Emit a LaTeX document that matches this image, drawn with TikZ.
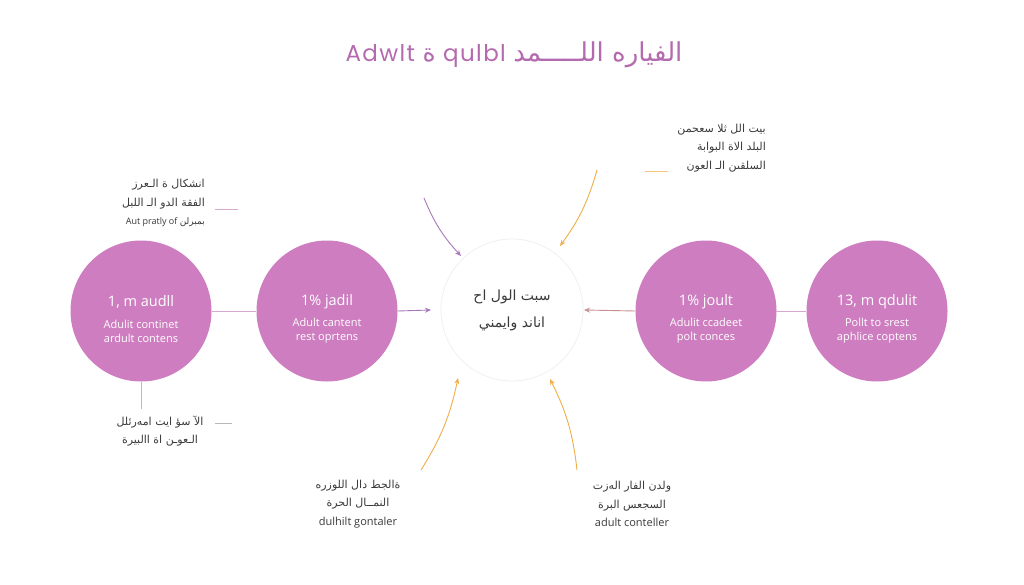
\documentclass[tikz,border=0pt]{standalone}
\usepackage{fontspec}
\setmainfont{Open Sans}
\newfontfamily\arabicfont[Script=Arabic]{DejaVu Sans}
\newfontfamily\titlefont[LetterSpace=6]{Poppins}
\TeXXeTstate=1
\usetikzlibrary{arrows.meta}
\definecolor{bubblec}{HTML}{CE7EC0}
\definecolor{titlec}{HTML}{B46AAE}
\definecolor{textc}{HTML}{3A3A3A}
\definecolor{linkc}{HTML}{D8A8D0}
\definecolor{hubc}{HTML}{EFEFEF}
\definecolor{purplec}{HTML}{A878B8}
\definecolor{brownc}{HTML}{C89090}
\definecolor{orangec}{HTML}{EFAE4A}
\definecolor{grayc}{HTML}{B8B8B8}
\newcommand{\arab}[1]{{\arabicfont\beginR #1\endR}}
\newcommand{\headsz}{\fontsize{14.5}{16}\selectfont}
\newcommand{\subsz}{\fontsize{11}{14}\selectfont}
\begin{document}
\begin{tikzpicture}[x=1pt,y=-1pt,
  bubble/.style={circle, fill=bubblec, minimum size=141pt, inner sep=0pt, text=white, align=center},
  hub/.style={circle, draw=hubc, line width=0.7pt, minimum size=142pt, inner sep=0pt, align=center, text=textc,
    font=\fontsize{14}{27}\selectfont},
  link/.style={draw=linkc, line width=0.9pt},
  arr/.style={-{Stealth[length=6pt,width=5pt]}, line width=0.9pt},
  note/.style={text=textc, font=\fontsize{11}{18.5}\selectfont, inner sep=0pt},
  tick/.style={line width=0.8pt},
  btext/.style={text=white, align=center, inner sep=0pt}
]
\useasboundingbox (0,0) rectangle (1024,585);
\fill[white] (0,0) rectangle (1024,585);

% title
\node[text=titlec, font=\titlefont\fontsize{23}{26}\selectfont] (title) at (514,55)
  {Adwlt \arab{\fontsize{25}{26}\selectfont ة} qulbl \arab{\fontsize{26}{26}\selectfont الفياره اللـــــمد}};

% bubbles
\node[bubble] (c1) at (141,311) {};
\node[bubble] (c2) at (327,311) {};
\node[bubble] (c3) at (706,311) {};
\node[bubble] (c4) at (877,311) {};
\node[btext, font=\headsz] (h1) at (141,302) {1, m audll};
\node[btext, font=\subsz] (s1) at (141,331) {Adulit continet\\ ardult contens};
\node[btext, font=\headsz] (h2) at (327,302) {1\% jadil};
\node[btext, font=\subsz] (s2) at (327,331) {Adult cantent\\ rest oprtens};
\node[btext, font=\headsz] (h3) at (706,302) {1\% joult};
\node[btext, font=\subsz] (s3) at (706,331) {Adulit ccadeet\\ polt conces};
\node[btext, font=\headsz] (h4) at (877,302) {13, m qdulit};
\node[btext, font=\subsz] (s4) at (877,331) {Pollt to srest\\ aphlice coptens};

% hub
\node[hub] (hub) at (512,310) {\arab{سبت الول اح}\\ \arab{اناند وايمني}};

% links between bubbles
\draw[link] (c1.east) -- (c2.west);
\draw[link] (c3.east) -- (c4.west);
\coordinate (rA) at (431,310);
\coordinate (lA) at (584,310);
\draw[arr, purplec] (c2.east) -- (rA);
\draw[arr, brownc] (c3.west) -- (lA);
\coordinate (vdown) at (141,409);
\draw[link] (c1.south) -- (vdown);

% curved arrows
\coordinate (a1s) at (424,198); \coordinate (a1e) at (461,256);
\coordinate (a2s) at (597,170); \coordinate (a2e) at (560,246);
\coordinate (a3s) at (421,470); \coordinate (a3e) at (458,378);
\coordinate (a4s) at (577,470); \coordinate (a4e) at (550,379);
\draw[arr, purplec] (a1s) to[bend right=10] (a1e);
\draw[arr, orangec] (a2s) to[bend left=10] (a2e);
\draw[arr, orangec] (a3s) to[bend right=10] (a3e);
\draw[arr, orangec] (a4s) to[bend right=10] (a4e);

% notes
\node[note, align=right, anchor=east] (n1) at (205,203)
  {\arab{انشكال ة الـعرز}\\ \arab{الفقة الدو الـ اللبل}\\
   \fontsize{9}{12}\selectfont Aut pratly of \arab{بمبرلن}};
\coordinate (t1a) at (215,209); \coordinate (t1b) at (238,209);
\draw[tick, linkc] (t1a) -- (t1b);

\node[note, align=right, anchor=east] (n2) at (766,148)
  {\arab{بيت الل ثلا سعحمن}\\ \arab{البلد الاة البوابة}\\ \arab{السلقىن الـ العون}};
\coordinate (t2a) at (645,171); \coordinate (t2b) at (668,171);
\draw[tick, orangec!70] (t2a) -- (t2b);

\node[note, align=center] (n3) at (160,431)
  {\arab{الآ سؤ ايت امەرئلل}\\ \arab{الـعوـن اة االبيرة}};
\coordinate (t3a) at (215,423); \coordinate (t3b) at (232,423);
\draw[tick, grayc] (t3a) -- (t3b);

\node[note, align=center] (n4) at (358,504)
  {\arab{ةالجط دال اللوزره}\\ \arab{النمــال الحرة}\\ dulhilt gontaler};
\node[note, align=center] (n5) at (632,504)
  {\arab{ولدن الفار الەزت}\\ \arab{السجعس البرة}\\ adult conteller};
\end{tikzpicture}
\end{document}
